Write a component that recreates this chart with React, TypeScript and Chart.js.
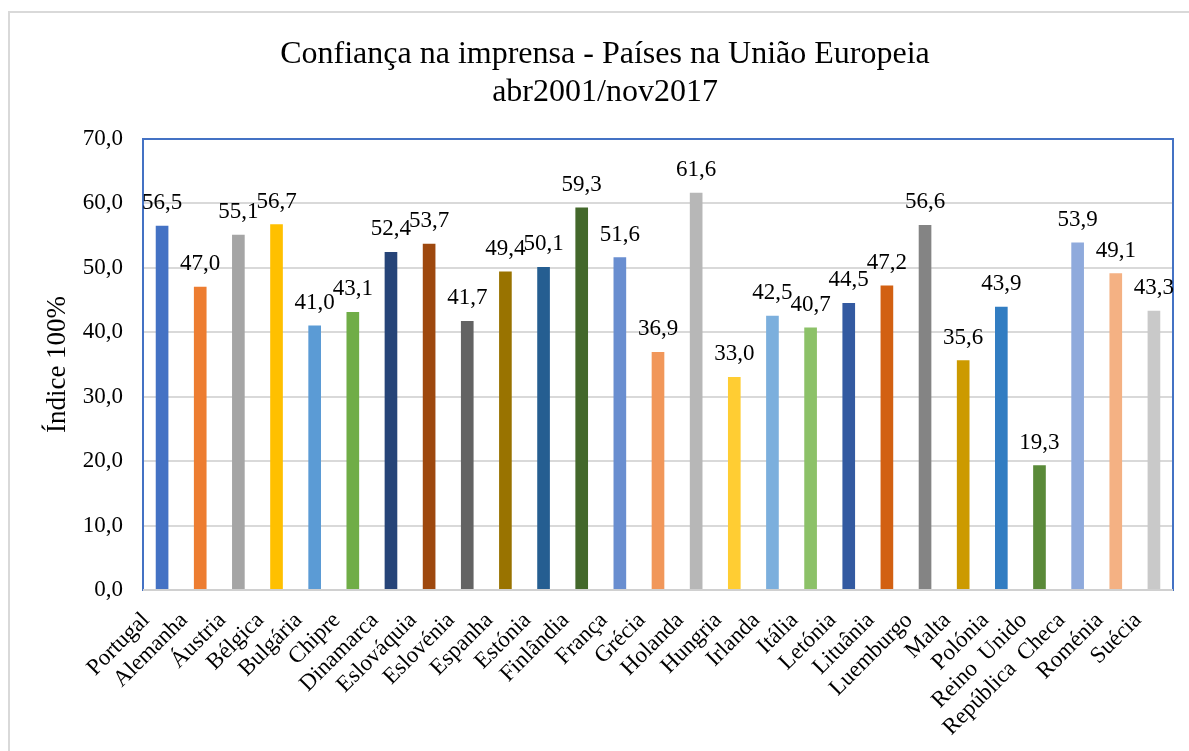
import React, { useEffect, useRef } from "react";
import { Chart, registerables } from "chart.js";

Chart.register(...registerables);

const categories = [
  "Portugal", "Alemanha", "Áustria", "Bélgica", "Bulgária", "Chipre", "Dinamarca",
  "Eslováquia", "Eslovénia", "Espanha", "Estónia", "Finlândia", "França", "Grécia",
  "Holanda", "Hungria", "Irlanda", "Itália", "Letónia", "Lituânia", "Luemburgo",
  "Malta", "Polónia", "Reino  Unido", "República  Checa", "Roménia", "Suécia",
];

const values = [
  56.5, 47.0, 55.1, 56.7, 41.0, 43.1, 52.4, 53.7, 41.7, 49.4, 50.1, 59.3, 51.6, 36.9,
  61.6, 33.0, 42.5, 40.7, 44.5, 47.2, 56.6, 35.6, 43.9, 19.3, 53.9, 49.1, 43.3,
];

const barColors = [
  "#4472C4", "#ED7D31", "#A5A5A5", "#FFC000", "#5B9BD5", "#70AD47", "#264478",
  "#9E480E", "#636363", "#997300", "#255E91", "#43682B", "#698ED0", "#F1975A",
  "#B7B7B7", "#FFCD33", "#7CAFDD", "#8CC168", "#335AA1", "#D26012", "#848484",
  "#CC9A00", "#327DC2", "#5A8A39", "#8FAADC", "#F4B183", "#C9C9C9",
];

const titleLines = ["Confiança na imprensa - Países na União Europeia", "abr2001/nov2017"];
const yAxisTitle = "Índice 100%";

const FONT = "'Liberation Serif', 'Times New Roman', serif";
const fmt = (v: number) => v.toFixed(1).replace(".", ",");

const decorPlugin = {
  id: "decor",
  beforeDraw(chart: any) {
    const ctx = chart.ctx;
    ctx.save();
    ctx.strokeStyle = "#d9d9d9";
    ctx.lineWidth = 2;
    ctx.beginPath();
    ctx.moveTo(9, 751);
    ctx.lineTo(9, 12);
    ctx.lineTo(1189, 12);
    ctx.stroke();
    ctx.fillStyle = "#000";
    ctx.font = `32px ${FONT}`;
    ctx.textAlign = "center";
    ctx.textBaseline = "middle";
    ctx.fillText(titleLines[0], 605, 55);
    ctx.fillText(titleLines[1], 605, 93);
    ctx.restore();
  },
  afterDatasetsDraw(chart: any) {
    const ctx = chart.ctx;
    const a = chart.chartArea;
    ctx.save();
    ctx.strokeStyle = "#4472C4";
    ctx.lineWidth = 2;
    ctx.strokeRect(a.left, a.top, a.right - a.left, a.bottom - a.top);
    ctx.strokeStyle = "#d0d0d0";
    ctx.beginPath();
    ctx.moveTo(a.left, a.bottom);
    ctx.lineTo(a.right, a.bottom);
    ctx.stroke();
    const meta = chart.getDatasetMeta(0);
    ctx.fillStyle = "#000";
    ctx.font = `23px ${FONT}`;
    ctx.textAlign = "center";
    ctx.textBaseline = "middle";
    meta.data.forEach((bar: any, i: number) => {
      ctx.fillText(fmt(values[i]), bar.x, bar.y - 23);
    });
    ctx.restore();
  },
};

export default function App() {
  const ref = useRef<HTMLCanvasElement>(null);
  useEffect(() => {
    if (!ref.current) return;
    const chart = new Chart(ref.current, {
      type: "bar",
      data: {
        labels: categories,
        datasets: [
          {
            data: values,
            backgroundColor: barColors,
            barThickness: 12,
          },
        ],
      },
      options: {
        animation: false,
        responsive: false,
        layout: { padding: { left: 42, right: 16, top: 139, bottom: 0 } },
        plugins: {
          legend: { display: false },
          title: { display: false },
          tooltip: { enabled: false },
        },
        scales: {
          x: {
            grid: { display: false, drawTicks: false },
            border: { display: false },
            ticks: {
              color: "#000",
              font: { family: FONT, size: 23 },
              minRotation: 45,
              maxRotation: 45,
              autoSkip: false,
              padding: 17,
              labelOffset: -16,
            },
            afterFit(scale: any) {
              scale.height = 161;
              scale.paddingLeft = 0;
              scale.paddingRight = 0;
            },
          },
          y: {
            min: 0,
            max: 70,
            grid: { color: "#d9d9d9", lineWidth: 2, drawTicks: false },
            border: { display: false },
            ticks: {
              stepSize: 10,
              color: "#000",
              font: { family: FONT, size: 23 },
              padding: 20,
              callback: (v: any) => fmt(Number(v)),
            },
            title: {
              display: true,
              text: yAxisTitle,
              color: "#000",
              font: { family: FONT, size: 27 },
              padding: 0,
            },
            afterFit(scale: any) {
              scale.width = 101;
            },
          },
        },
      },
      plugins: [decorPlugin],
    });
    return () => chart.destroy();
  }, []);
  return (
    <canvas
      ref={ref}
      width={1189}
      height={751}
      style={{ position: "absolute", left: 0, top: 0, width: 1189, height: 751 }}
    />
  );
}
